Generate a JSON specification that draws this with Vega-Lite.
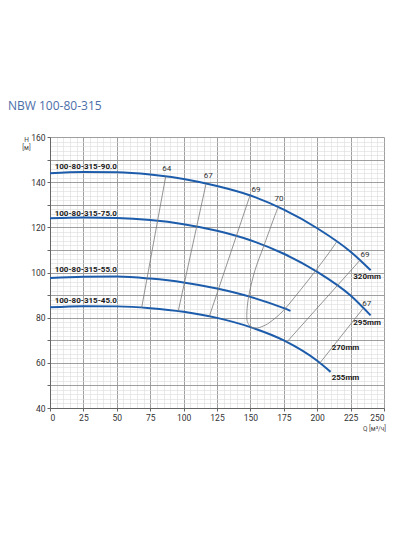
{
  "$schema": "https://vega.github.io/schema/vega-lite/v6.json",
  "width": 334,
  "height": 271,
  "autosize": "none",
  "padding": {"left": 50, "top": 137, "right": 16, "bottom": 126},
  "background": "white",
  "config": {"view": {"stroke": null}, "font": "Roboto"},
  "title": {
    "text": "NBW 100-80-315",
    "anchor": "start",
    "frame": "group",
    "dx": -42,
    "offset": 20,
    "fontSize": 12,
    "font": "Open Sans",
    "fontWeight": "normal",
    "color": "#4b6ea9"
  },
  "datasets": {
    "pump": [
      {"curve": "320mm", "q": 0, "h": 144.0},
      {"curve": "320mm", "q": 25, "h": 144.5},
      {"curve": "320mm", "q": 50, "h": 144.4},
      {"curve": "320mm", "q": 75, "h": 143.4},
      {"curve": "320mm", "q": 100, "h": 141.4},
      {"curve": "320mm", "q": 125, "h": 138.3},
      {"curve": "320mm", "q": 150, "h": 134.1},
      {"curve": "320mm", "q": 175, "h": 127.8},
      {"curve": "320mm", "q": 200, "h": 119.6},
      {"curve": "320mm", "q": 225, "h": 109.2},
      {"curve": "320mm", "q": 240, "h": 101.0},
      {"curve": "295mm", "q": 0, "h": 124.0},
      {"curve": "295mm", "q": 25, "h": 124.3},
      {"curve": "295mm", "q": 50, "h": 124.1},
      {"curve": "295mm", "q": 75, "h": 123.2},
      {"curve": "295mm", "q": 100, "h": 121.4},
      {"curve": "295mm", "q": 125, "h": 118.5},
      {"curve": "295mm", "q": 150, "h": 114.3},
      {"curve": "295mm", "q": 175, "h": 108.3},
      {"curve": "295mm", "q": 200, "h": 100.3},
      {"curve": "295mm", "q": 225, "h": 89.8},
      {"curve": "295mm", "q": 240, "h": 81.0},
      {"curve": "270mm", "q": 0, "h": 97.6},
      {"curve": "270mm", "q": 25, "h": 98.1},
      {"curve": "270mm", "q": 50, "h": 98.2},
      {"curve": "270mm", "q": 75, "h": 97.3},
      {"curve": "270mm", "q": 100, "h": 95.6},
      {"curve": "270mm", "q": 125, "h": 92.9},
      {"curve": "270mm", "q": 150, "h": 89.2},
      {"curve": "270mm", "q": 175, "h": 84.2},
      {"curve": "270mm", "q": 180, "h": 83.0},
      {"curve": "255mm", "q": 0, "h": 84.6},
      {"curve": "255mm", "q": 25, "h": 85.1},
      {"curve": "255mm", "q": 50, "h": 85.0},
      {"curve": "255mm", "q": 75, "h": 84.2},
      {"curve": "255mm", "q": 100, "h": 82.6},
      {"curve": "255mm", "q": 125, "h": 79.9},
      {"curve": "255mm", "q": 150, "h": 75.8},
      {"curve": "255mm", "q": 175, "h": 69.9},
      {"curve": "255mm", "q": 200, "h": 60.9},
      {"curve": "255mm", "q": 210, "h": 56.0}
    ],
    "eff": [
      {"line": "64", "i": 0, "q": 68.6, "h": 84.4},
      {"line": "64", "i": 1, "q": 86.6, "h": 142.5},
      {"line": "67a", "i": 0, "q": 96.0, "h": 82.9},
      {"line": "67a", "i": 1, "q": 116.8, "h": 139.3},
      {"line": "69a", "i": 0, "q": 119.2, "h": 80.5},
      {"line": "69a", "i": 1, "q": 149.7, "h": 134.1},
      {"line": "70", "i": 0, "q": 170.7, "h": 128.9},
      {"line": "70", "i": 1, "q": 167.0, "h": 123.1},
      {"line": "70", "i": 2, "q": 159.7, "h": 111.2},
      {"line": "70", "i": 3, "q": 153.4, "h": 100.9},
      {"line": "70", "i": 4, "q": 148.6, "h": 89.0},
      {"line": "70", "i": 5, "q": 147.3, "h": 80.1},
      {"line": "70", "i": 6, "q": 149.2, "h": 76.6},
      {"line": "70", "i": 7, "q": 153.0, "h": 75.4},
      {"line": "70", "i": 8, "q": 158.0, "h": 75.9},
      {"line": "70", "i": 9, "q": 164.7, "h": 78.0},
      {"line": "70", "i": 10, "q": 174.6, "h": 83.1},
      {"line": "70", "i": 11, "q": 187.1, "h": 92.0},
      {"line": "70", "i": 12, "q": 197.0, "h": 99.4},
      {"line": "70", "i": 13, "q": 207.1, "h": 107.3},
      {"line": "70", "i": 14, "q": 214.6, "h": 113.6},
      {"line": "69b", "i": 0, "q": 177.1, "h": 69.1},
      {"line": "69b", "i": 1, "q": 232.0, "h": 105.4},
      {"line": "67b", "i": 0, "q": 202.0, "h": 59.9},
      {"line": "67b", "i": 1, "q": 234.5, "h": 84.2}
    ],
    "names": [
      {"text": "100-80-315-90.0", "q": 3.5, "h": 146.8},
      {"text": "100-80-315-75.0", "q": 3.5, "h": 126.1},
      {"text": "100-80-315-55.0", "q": 3.5, "h": 100.9},
      {"text": "100-80-315-45.0", "q": 3.5, "h": 87.6}
    ],
    "effLabels": [
      {"text": "64", "q": 87.3, "h": 145.8},
      {"text": "67", "q": 118.5, "h": 142.7},
      {"text": "69", "q": 154.2, "h": 136.4},
      {"text": "70", "q": 171.4, "h": 132.7},
      {"text": "69", "q": 235.8, "h": 107.6},
      {"text": "67", "q": 237.0, "h": 86.1}
    ],
    "sizes": [
      {"text": "320mm", "q": 227.0, "h": 97.9},
      {"text": "295mm", "q": 227.0, "h": 77.6},
      {"text": "270mm", "q": 210.8, "h": 66.5},
      {"text": "255mm", "q": 210.8, "h": 53.2}
    ]
  },
  "layer": [
    {
      "data": {"name": "pump"},
      "mark": {"type": "line", "color": "#1c5cab", "strokeWidth": 2, "interpolate": "monotone"},
      "encoding": {
        "x": {
          "field": "q", "type": "quantitative",
          "scale": {"domain": [0, 250], "nice": false},
          "axis": {"orient": "bottom", "tickCount": 50, "grid": true, "gridColor": "#dcdcdc", "gridWidth": 0.6, "labels": false, "ticks": false, "domain": false, "title": null}
        },
        "y": {
          "field": "h", "type": "quantitative",
          "scale": {"domain": [40, 160], "nice": false, "zero": false},
          "axis": {"orient": "left", "tickCount": 60, "grid": true, "gridColor": "#dcdcdc", "gridWidth": 0.6, "labels": false, "ticks": false, "domain": false, "title": null}
        },
        "detail": {"field": "curve", "type": "nominal"}
      }
    },
    {
      "data": {"name": "eff"},
      "mark": {"type": "line", "color": "#7a7a7a", "strokeWidth": 0.8, "interpolate": "cardinal"},
      "encoding": {
        "x": {
          "field": "q", "type": "quantitative",
          "axis": {
            "orient": "bottom",
            "values": [0, 25, 50, 75, 100, 125, 150, 175, 200, 225, 250],
            "grid": true, "gridColor": "#8c8c8c", "gridWidth": 0.8,
            "domain": true, "domainColor": "#666", "tickColor": "#666", "tickSize": 3,
            "labelFontSize": 8.5, "labelColor": "#333", "labelPadding": 2,
            "title": "Q [м³/ч]", "titleFontSize": 6.5, "titleFontWeight": "normal", "titleColor": "#444",
            "titleX": 324, "titleY": 20, "titleAlign": "center", "titleBaseline": "middle"
          }
        },
        "y": {
          "field": "h", "type": "quantitative",
          "axis": {
            "orient": "left",
            "values": [40, 50, 60, 70, 80, 90, 100, 110, 120, 130, 140, 150, 160],
            "labelExpr": "datum.value % 20 === 0 ? datum.label : ''",
            "grid": true, "gridColor": "#8c8c8c", "gridWidth": 0.8,
            "domain": true, "domainColor": "#666", "tickColor": "#666", "tickSize": 3,
            "labelFontSize": 8.5, "labelColor": "#333", "labelPadding": 2,
            "title": ["H", "[м]"], "titleAngle": 0, "titleFontSize": 6.5, "titleFontWeight": "normal", "titleColor": "#444",
            "titleX": -24, "titleY": -1, "titleAlign": "center", "titleBaseline": "top", "titleLineHeight": 8
          }
        },
        "detail": {"field": "line", "type": "nominal"},
        "order": {"field": "i", "type": "quantitative"}
      }
    },
    {
      "data": {"name": "names"},
      "mark": {"type": "text", "align": "left", "baseline": "middle", "fontSize": 8, "fontWeight": "bold", "color": "#1a1a1a"},
      "encoding": {
        "x": {"field": "q", "type": "quantitative", "axis": null},
        "y": {"field": "h", "type": "quantitative", "axis": null},
        "text": {"field": "text", "type": "nominal"}
      }
    },
    {
      "data": {"name": "effLabels"},
      "mark": {"type": "text", "align": "center", "baseline": "middle", "fontSize": 8, "color": "#333"},
      "encoding": {
        "x": {"field": "q", "type": "quantitative", "axis": null},
        "y": {"field": "h", "type": "quantitative", "axis": null},
        "text": {"field": "text", "type": "nominal"}
      }
    },
    {
      "data": {"name": "sizes"},
      "mark": {"type": "text", "align": "left", "baseline": "middle", "fontSize": 8, "fontWeight": "bold", "color": "#1a1a1a"},
      "encoding": {
        "x": {"field": "q", "type": "quantitative", "axis": null},
        "y": {"field": "h", "type": "quantitative", "axis": null},
        "text": {"field": "text", "type": "nominal"}
      }
    }
  ],
  "resolve": {"axis": {"x": "independent", "y": "independent"}}
}
